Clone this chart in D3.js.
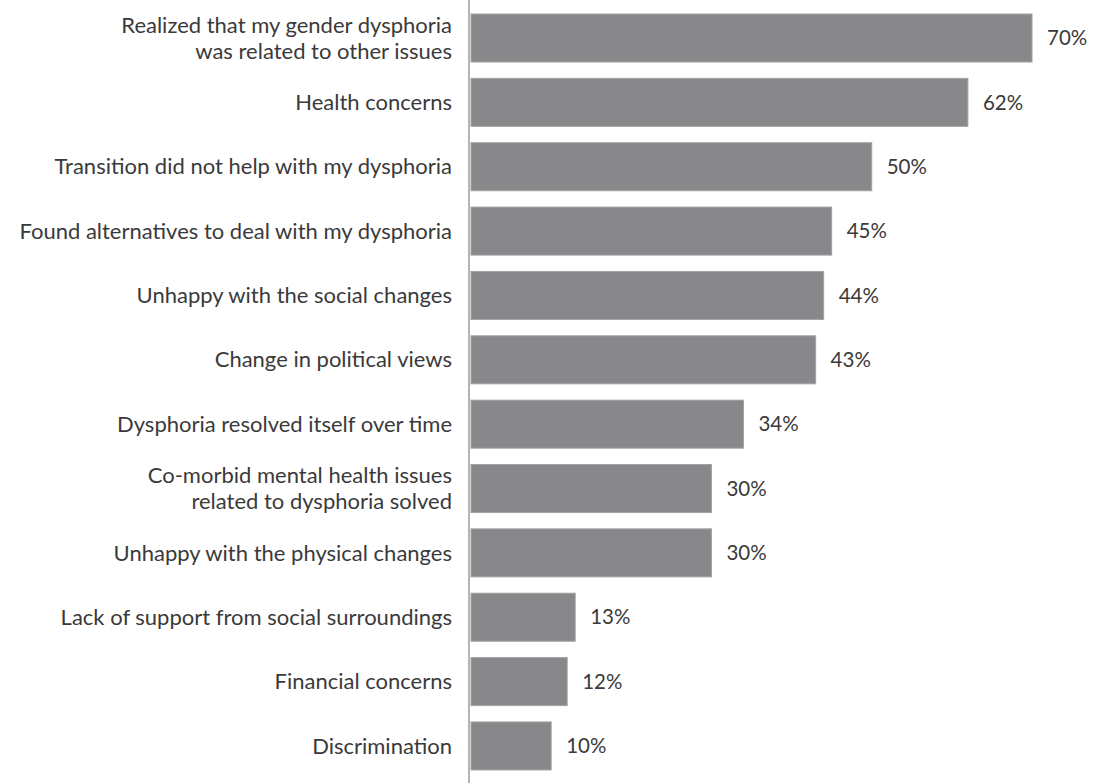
<!DOCTYPE html>
<html>
<head>
<meta charset="utf-8">
<script src="https://cdn.jsdelivr.net/npm/d3@7"></script>
<style>
  body { margin: 0; background: #fff; }
</style>
</head>
<body>
<div id="chart"></div>
<script>
// categories (lines split where the original wraps) and values in percent
var categories = [
  ["Realized that my gender dysphoria", "was related to other issues"],
  ["Health concerns"],
  ["Transition did not help with my dysphoria"],
  ["Found alternatives to deal with my dysphoria"],
  ["Unhappy with the social changes"],
  ["Change in political views"],
  ["Dysphoria resolved itself over time"],
  ["Co-morbid mental health issues", "related to dysphoria solved"],
  ["Unhappy with the physical changes"],
  ["Lack of support from social surroundings"],
  ["Financial concerns"],
  ["Discrimination"]
];
var values = [70, 62, 50, 45, 44, 43, 34, 30, 30, 13, 12, 10];
var valueLabels = ["70%", "62%", "50%", "45%", "44%", "43%", "34%", "30%", "30%", "13%", "12%", "10%"];

var W = 1100, H = 783;
var AXIS_X = 469;

var svg = d3.select("#chart")
  .append("svg")
    .attr("width", W)
    .attr("height", H);

var y = d3.scaleBand()
  .domain(d3.range(values.length))
  .range([-2.35, 786.3])
  .padding(0.254);

var x = d3.scaleLinear()
  .domain([0, 70])
  .range([AXIS_X + 2, 1032]);

// bars
svg.selectAll("rect.bar")
  .data(values)
  .enter()
  .append("rect")
    .attr("class", "bar")
    .attr("x", x(0))
    .attr("y", function(d, i) { return y(i); })
    .attr("width", function(d) { return x(d) - x(0); })
    .attr("height", y.bandwidth())
    .style("fill", "#88888b")
    .style("stroke", "#a2a2a4")
    .style("stroke-width", 1);

// axis line
svg.append("line")
  .attr("x1", AXIS_X)
  .attr("y1", 0)
  .attr("x2", AXIS_X)
  .attr("y2", H)
  .attr("stroke", "#b4b4b4")
  .attr("stroke-width", 2);

// category labels
var LINE_H = 26;
var labels = svg.selectAll("text.cat")
  .data(categories)
  .enter()
  .append("text")
    .attr("class", "cat")
    .attr("text-anchor", "end")
    .style("font-family", "Lato, 'Open Sans', sans-serif")
    .style("font-size", "22px")
    .style("fill", "#3a3a3a")
    .attr("transform", function(d, i) {
      var cy = y(i) + y.bandwidth() / 2 - (d.length - 1) * LINE_H / 2;
      return "translate(452," + cy + ")";
    });

labels.selectAll("tspan")
  .data(function(d) { return d; })
  .enter()
  .append("tspan")
    .attr("x", 0)
    .attr("dy", function(d, j) { return j === 0 ? "0.35em" : LINE_H; })
    .text(function(d) { return d; });

// value labels
svg.selectAll("text.val")
  .data(values)
  .enter()
  .append("text")
    .attr("class", "val")
    .attr("x", function(d) { return x(d) + 15; })
    .attr("y", function(d, i) { return y(i) + y.bandwidth() / 2; })
    .attr("dy", "0.35em")
    .style("font-family", "Lato, 'Open Sans', sans-serif")
    .style("font-size", "20.5px")
    .style("fill", "#3a3a3a")
    .text(function(d, i) { return valueLabels[i]; });
</script>
</body>
</html>
